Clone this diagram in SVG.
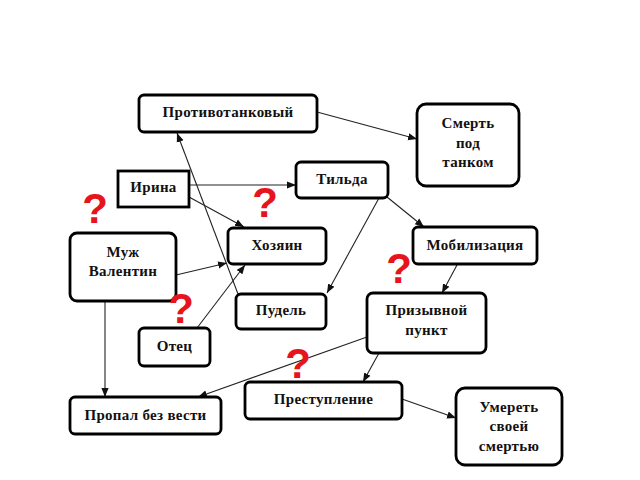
<svg xmlns="http://www.w3.org/2000/svg" width="640" height="480" viewBox="0 0 640 480">
<style>
.box{fill:#fff;stroke:#000;stroke-width:2.8}
.t{font-family:"Liberation Serif","Times New Roman",serif;font-weight:bold;font-size:15px;letter-spacing:0.3px;text-anchor:middle;fill:#111}
.e{stroke:#222;stroke-width:1.1;fill:none;marker-end:url(#ah)}
.q{font-family:"Liberation Sans",Arial,sans-serif;font-weight:bold;font-size:42px;fill:#e8141b;text-anchor:middle}
</style>
<defs>
<marker id="ah" viewBox="0 0 10 10" refX="10" refY="5" markerWidth="9" markerHeight="9" markerUnits="userSpaceOnUse" orient="auto">
<path d="M0,1 L10,5 L0,9 Z" fill="#111"/>
</marker>
</defs>
<rect width="640" height="480" fill="#fff"/>
<g id="connectors">
<line class="e" x1="317" y1="112" x2="417" y2="139"/>
<line class="e" x1="189" y1="185" x2="296" y2="185"/>
<line class="e" x1="189" y1="197" x2="244" y2="227"/>
<line class="e" x1="238" y1="294" x2="177" y2="133"/>
<line class="e" x1="176" y1="275" x2="227" y2="263"/>
<line class="e" x1="197" y1="328" x2="245" y2="265"/>
<line class="e" x1="379" y1="198" x2="327" y2="293"/>
<line class="e" x1="387" y1="197" x2="424" y2="227"/>
<line class="e" x1="457" y1="265" x2="442" y2="293"/>
<line class="e" x1="379" y1="353" x2="363" y2="382"/>
<line class="e" x1="367" y1="337" x2="198" y2="397"/>
<line class="e" x1="105" y1="301" x2="105" y2="397"/>
<line class="e" x1="402" y1="399" x2="456" y2="418"/>
</g>
<g id="n-protivotankovy"><rect class="box" x="139" y="95" width="178" height="37" rx="5"/><text class="t" x="228" y="117">Противотанковый</text></g>
<g id="n-smert-pod-tankom"><rect class="box" x="417" y="104" width="102" height="82" rx="9"/><text class="t" x="468" y="128">Смерть</text><text class="t" x="468" y="148">под</text><text class="t" x="468" y="167">танком</text></g>
<g id="n-irina"><rect class="box" x="118" y="171" width="71" height="36"/><text class="t" x="153.5" y="192">Ирина</text></g>
<g id="n-tilda"><rect class="box" x="296" y="162" width="92" height="36" rx="5"/><text class="t" x="342" y="184">Тильда</text></g>
<g id="n-khozyain"><rect class="box" x="228" y="228" width="98" height="36" rx="5"/><text class="t" x="277" y="250">Хозяин</text></g>
<g id="n-muzh"><rect class="box" x="70" y="233" width="106" height="68" rx="7"/><text class="t" x="123" y="257">Муж</text><text class="t" x="123" y="276">Валентин</text></g>
<g id="n-pudel"><rect class="box" x="236" y="294" width="90" height="35" rx="5"/><text class="t" x="281" y="315">Пудель</text></g>
<g id="n-otets"><rect class="box" x="139" y="328" width="71" height="38" rx="5"/><text class="t" x="174.5" y="351">Отец</text></g>
<g id="n-mobilizatsiya"><rect class="box" x="413" y="227" width="124" height="37" rx="5"/><text class="t" x="475" y="250">Мобилизация</text></g>
<g id="n-prizyvnoy"><rect class="box" x="367" y="293" width="119" height="60" rx="6"/><text class="t" x="426.5" y="315">Призывной</text><text class="t" x="426.5" y="335">пункт</text></g>
<g id="n-propal"><rect class="box" x="70" y="397" width="151" height="37" rx="5"/><text class="t" x="145.5" y="420">Пропал без вести</text></g>
<g id="n-prestuplenie"><rect class="box" x="245" y="382" width="157" height="37" rx="5"/><text class="t" x="323.5" y="404">Преступление</text></g>
<g id="n-umeret"><rect class="box" x="456" y="388" width="106" height="77" rx="9"/><text class="t" x="509" y="412">Умереть</text><text class="t" x="509" y="431">своей</text><text class="t" x="509" y="451">смертью</text></g>
<g id="questions">
<text class="q" x="95" y="223">?</text>
<text class="q" x="265" y="217">?</text>
<text class="q" x="181" y="323">?</text>
<text class="q" x="399" y="283">?</text>
<text class="q" x="298" y="378">?</text>
</g>
</svg>
